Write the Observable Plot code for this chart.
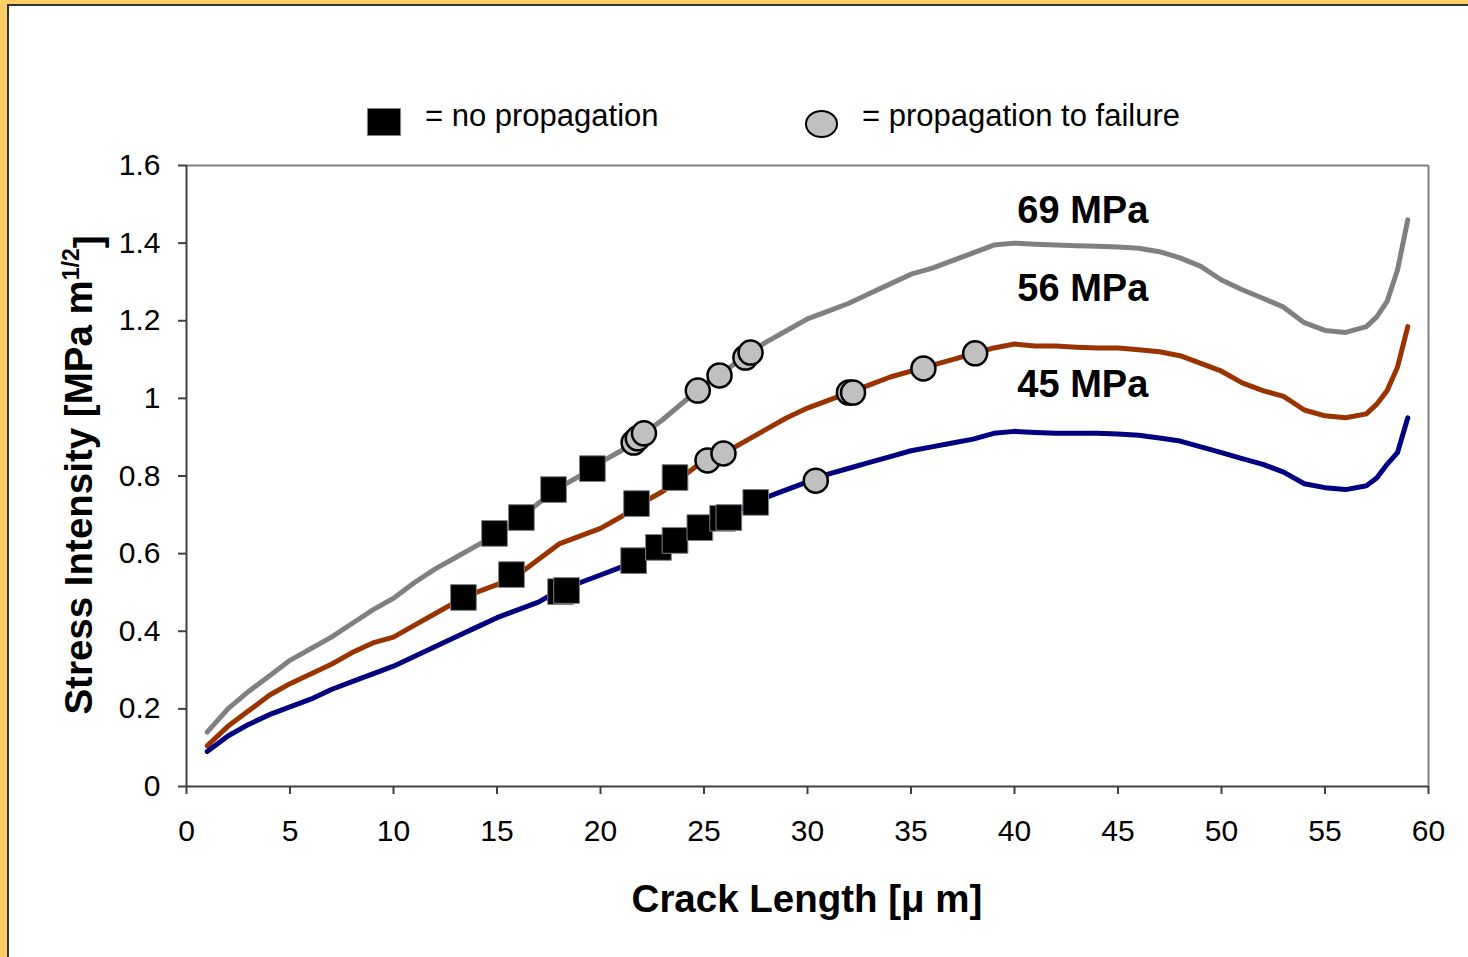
<!DOCTYPE html>
<html>
<head>
<meta charset="utf-8">
<script src="https://cdn.jsdelivr.net/npm/d3@7"></script>
<script src="https://cdn.jsdelivr.net/npm/@observablehq/plot@0.6"></script>
<style>
  body { margin: 0; }
  #page { position: relative; width: 1468px; height: 957px; background: #FFCC66; overflow: hidden; font-family: "Liberation Sans", Arial, sans-serif; }
  #inner { position: absolute; left: 7px; top: 4px; right: 0; bottom: 0; background: #fff; border-left: 2px solid #333; border-top: 2px solid #333; }
  .leg { position: absolute; font-size: 31px; line-height: 31px; color: #000; white-space: nowrap; }
  #chart { position: absolute; left: 9px; top: 150px; }
</style>
</head>
<body>
<div id="page">
  <div id="inner"></div>
  <div style="position:absolute;left:367px;top:108px;width:32px;height:26px;background:#000;border:1px solid #808080;"></div>
  <div class="leg" style="left:425px;top:100px;">= no propagation</div>
  <div style="position:absolute;left:805px;top:110px;width:29px;height:24px;background:#C0C0C0;border:2px solid #000;border-radius:50%;"></div>
  <div class="leg" style="left:862px;top:100px;">= propagation to failure</div>
  <div id="chart"></div>
</div>
<script>
// Crack length grid (µm)
const crackLength = [1,2,3,4,5,6,7,8,9,10,11,12,13,14,15,16,17,18,19,20,21,22,23,24,25,26,27,28,29,30,31,32,33,34,35,36,37,38,39,40,41,42,43,44,45,46,47,48,49,50,51,52,53,54,55,56,57,57.5,58,58.5,59];
// Stress intensity curves (MPa m^1/2)
const k69 = [0.14,0.20,0.245,0.285,0.325,0.355,0.385,0.42,0.455,0.485,0.525,0.56,0.59,0.62,0.65,0.685,0.73,0.77,0.80,0.835,0.865,0.905,0.945,0.99,1.035,1.07,1.11,1.145,1.175,1.205,1.225,1.245,1.27,1.295,1.32,1.335,1.355,1.375,1.395,1.40,1.397,1.395,1.393,1.392,1.39,1.387,1.378,1.362,1.34,1.305,1.28,1.258,1.235,1.195,1.175,1.17,1.185,1.21,1.25,1.33,1.46];
const k56 = [0.105,0.155,0.195,0.235,0.265,0.29,0.315,0.345,0.37,0.385,0.415,0.445,0.475,0.50,0.52,0.545,0.585,0.625,0.645,0.665,0.695,0.73,0.76,0.80,0.84,0.86,0.89,0.92,0.95,0.975,0.995,1.015,1.035,1.055,1.07,1.085,1.10,1.115,1.13,1.14,1.135,1.135,1.132,1.13,1.13,1.125,1.12,1.11,1.09,1.07,1.04,1.02,1.005,0.97,0.955,0.95,0.96,0.985,1.02,1.08,1.185];
const k45 = [0.09,0.13,0.16,0.185,0.205,0.225,0.25,0.27,0.29,0.31,0.335,0.36,0.385,0.41,0.435,0.455,0.475,0.505,0.525,0.545,0.565,0.59,0.62,0.645,0.67,0.695,0.72,0.745,0.765,0.785,0.805,0.82,0.835,0.85,0.865,0.875,0.885,0.895,0.91,0.915,0.912,0.91,0.91,0.91,0.908,0.905,0.898,0.89,0.875,0.86,0.845,0.83,0.81,0.78,0.77,0.765,0.775,0.795,0.83,0.86,0.95];
const seriesNames = ["69 MPa","56 MPa","45 MPa"];
const seriesColors = ["#808080","#993300","#000080"];
const labelX = [43.3,43.3,43.3];
const labelY = [1.484,1.281,1.036];

// No propagation (squares)
const sqX = [14.88,16.18,17.73,19.61, 13.38,15.7,21.74,23.6, 18.07,18.36,21.6,22.8,23.6,24.8,25.9,26.2,27.5];
const sqY = [0.652,0.693,0.765,0.819, 0.487,0.546,0.729,0.796, 0.502,0.505,0.582,0.616,0.634,0.667,0.691,0.693,0.732];
// Propagation to failure (circles)
const ciX = [21.6,21.8,22.1,24.7,25.75,27.0,27.25, 25.17,25.94,32.0,32.2,35.6,38.1, 30.4];
const ciY = [0.886,0.897,0.910,1.020,1.059,1.105,1.118, 0.840,0.858,1.015,1.015,1.077,1.116, 0.788];

const xTicks = [0,5,10,15,20,25,30,35,40,45,50,55,60];
const yTicks = [0,0.2,0.4,0.6,0.8,1,1.2,1.4,1.6];

const lines = [];
[k69,k56,k45].forEach((arr, s) => arr.forEach((v, i) => lines.push({x: crackLength[i], y: v, s: seriesNames[s]})));
const squares = sqX.map((x, i) => ({x, y: sqY[i]}));
const circles = ciX.map((x, i) => ({x, y: ciY[i]}));
const labels = seriesNames.map((n, i) => ({x: labelX[i], y: labelY[i], n}));

const W = 1459, H = 807;
const plot = Plot.plot({
  width: W, height: H,
  marginLeft: 177, marginRight: 40, marginTop: 15, marginBottom: 171,
  style: {background: "transparent", fontFamily: "'Liberation Sans', Arial, sans-serif", fontSize: "30px", color: "#000", overflow: "visible"},
  x: {domain: [0, 60]},
  y: {domain: [0, 1.6]},
  color: {domain: seriesNames, range: seriesColors},
  marks: [
    Plot.ruleY([1.6], {stroke: "#808080", strokeWidth: 2}),
    Plot.ruleX([60], {stroke: "#808080", strokeWidth: 2}),
    Plot.ruleY([0], {stroke: "#404040", strokeWidth: 2}),
    Plot.ruleX([0], {stroke: "#404040", strokeWidth: 2}),
    Plot.axisX({ticks: xTicks, tickSize: 8, tickPadding: 25, stroke: "#404040", strokeWidth: 2, label: null, tickFormat: d => String(d), fontSize: 30, fill: "#000"}),
    Plot.axisY({ticks: yTicks, tickSize: 8, tickPadding: 18, stroke: "#404040", strokeWidth: 2, label: null, tickFormat: d => String(d), fontSize: 30, fill: "#000"}),
    Plot.line(lines, {x: "x", y: "y", z: "s", stroke: "s", strokeWidth: 5, strokeLinejoin: "round"}),
    Plot.dot(squares, {x: "x", y: "y", symbol: "square", r: 14.5, fill: "#000", stroke: "#808080", strokeWidth: 1}),
    Plot.dot(circles, {x: "x", y: "y", r: 12, fill: "#C0C0C0", stroke: "#000", strokeWidth: 2.5}),
    Plot.text(labels, {x: "x", y: "y", text: "n", fontSize: 38, fontWeight: "bold", textAnchor: "middle", fill: "#000"})
  ]
});
document.getElementById("chart").appendChild(plot);

const svg = d3.select(plot);
// x axis title
svg.append("text")
  .attr("x", 798).attr("y", 762)
  .attr("text-anchor", "middle")
  .attr("font-size", 38.5).attr("font-weight", "bold").attr("fill", "#000")
  .text("Crack Length [μ m]");
// y axis title with superscript
const yt = svg.append("text")
  .attr("transform", "translate(83,325) rotate(-90)")
  .attr("text-anchor", "middle")
  .attr("font-size", 38.5).attr("font-weight", "bold").attr("fill", "#000");
yt.append("tspan").text("Stress Intensity [MPa m");
yt.append("tspan").attr("dy", "-0.55em").attr("font-size", 23).text("1/2");
yt.append("tspan").attr("dy", "0.55em").text("]");
</script>
</body>
</html>
